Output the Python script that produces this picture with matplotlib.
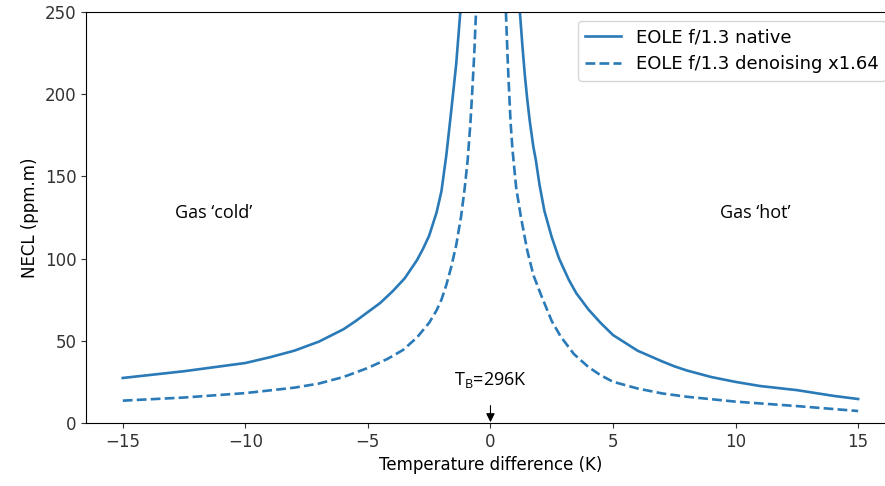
import matplotlib
matplotlib.use("Agg")
import matplotlib.pyplot as plt

# NECL vs temperature difference (two branches per curve)
native_left_x = [-15, -12.5, -10, -9, -8, -7, -6, -5.5, -5, -4.5, -4, -3.5, -3, -2.75, -2.5, -2.2, -2, -1.8, -1.6, -1.4, -1.23]
native_left_y = [27.4, 31.5, 36.5, 40, 44, 49.5, 57, 62, 67.5, 73, 80, 88, 99, 106, 114, 128, 141, 163, 190, 218, 250]
native_right_x = [1.2, 1.3, 1.4, 1.5, 1.6, 1.75, 1.85, 2, 2.2, 2.5, 2.8, 3.2, 3.5, 4, 4.5, 5, 6, 7, 7.5, 8, 9, 10, 11, 12.5, 14, 15]
native_right_y = [250, 230, 212, 197, 184, 168, 160, 145, 129, 113, 100, 87, 79, 69, 60.8, 53.5, 44, 37.5, 34.5, 32, 28, 25, 22.5, 20, 16.5, 14.6]

denoise_left_x = [-15, -12.5, -10, -8, -7, -6, -5, -4.2, -3.57, -3, -2.5, -2.2, -2, -1.8, -1.6, -1.4, -1.2, -1.05, -0.93, -0.82, -0.75, -0.66, -0.59]
denoise_left_y = [13.6, 15.5, 18.2, 21.5, 24, 28, 33.5, 39, 44.4, 52, 61, 68.5, 75, 84, 95, 108, 125.5, 143, 160, 182, 200, 225, 250]
denoise_right_x = [0.63, 0.7, 0.75, 0.82, 0.9, 1.05, 1.24, 1.5, 1.75, 2.06, 2.5, 2.87, 3.4, 4, 4.5, 5, 6, 7, 8, 10, 12.5, 15]
denoise_right_y = [250, 222, 205, 183, 166, 143, 125.5, 105, 90, 78, 62, 52.5, 42, 34, 29, 25.1, 21, 18, 16, 13, 10.3, 7.3]

fig = plt.figure(figsize=(8.85, 4.86), dpi=100)
ax = fig.add_axes([0.0972, 0.1296, 0.914, 0.8457])

c = '#2a7ab8'
ax.plot(native_left_x, native_left_y, color=c, lw=1.9, label='EOLE f/1.3 native')
ax.plot(native_right_x, native_right_y, color=c, lw=1.9)
ax.plot(denoise_left_x, denoise_left_y, color=c, lw=1.9, ls='--', label='EOLE f/1.3 denoising x1.64')
ax.plot(denoise_right_x, denoise_right_y, color=c, lw=1.9, ls='--')

ax.set_xlim(-16.5, 16.5)
ax.set_ylim(0, 250)
ax.set_xticks([-15, -10, -5, 0, 5, 10, 15])
ax.tick_params(labelsize=12, colors='#333333')
ax.set_xlabel('Temperature difference (K)', fontsize=12)
ax.set_ylabel('NECL (ppm.m)', fontsize=12)

ax.text(-11.3, 128, 'Gas \u2018cold\u2019', fontsize=13, family='Open Sans', ha='center', va='center')
ax.text(10.8, 128, 'Gas \u2018hot\u2019', fontsize=13, family='Open Sans', ha='center', va='center')
ax.annotate('T$_\\mathregular{B}$=296K', xy=(0, 0.5), xytext=(0, 26), fontsize=13, family='Open Sans',
            ha='center', va='center',
            arrowprops=dict(arrowstyle='-|>', color='black', lw=0.8, shrinkA=9, shrinkB=0))

ax.legend(loc='upper right', fontsize=13)

fig.savefig('out.png', dpi=100)
